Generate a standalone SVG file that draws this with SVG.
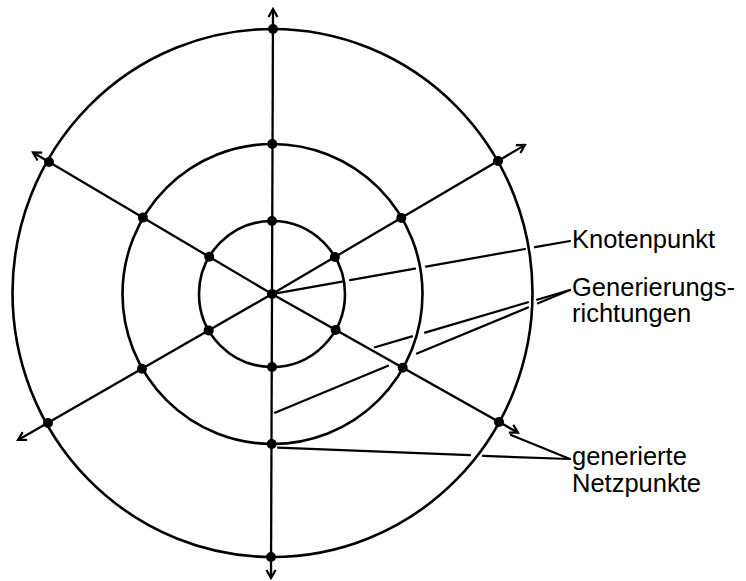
<svg xmlns="http://www.w3.org/2000/svg" width="746" height="581" viewBox="0 0 746 581">
<style>
.ring{fill:none;stroke:#000;stroke-width:2.6}
.spoke{fill:none;stroke:#000;stroke-width:2.3}
.lead{fill:none;stroke:#000;stroke-width:2.2;stroke-linecap:round}
.dot{fill:#000}
.lbl{font-family:"Liberation Sans",Arial,sans-serif;font-size:25.5px;fill:#000}
</style>
<defs>
<marker id="arr" viewBox="-10 -6 12 12" markerWidth="12" markerHeight="12" refX="0" refY="0" orient="auto" markerUnits="userSpaceOnUse">
<path d="M-8,-4.5 L0,0 L-8,4.5" fill="none" stroke="#000" stroke-width="2.2"/>
</marker>
</defs>
<rect width="746" height="581" fill="#fff"/>
<g id="rings">
<circle class="ring" cx="272" cy="294" r="73"/>
<circle class="ring" cx="272.5" cy="294" r="150"/>
<ellipse class="ring" cx="272.5" cy="293" rx="260" ry="264"/>
</g>
<g id="connectors">
<line class="spoke" x1="272" y1="294" x2="273" y2="9" marker-end="url(#arr)"/>
<line class="spoke" x1="272" y1="294" x2="271" y2="578" marker-end="url(#arr)"/>
<line class="spoke" x1="272" y1="294" x2="525" y2="145" marker-end="url(#arr)"/>
<line class="spoke" x1="272" y1="294" x2="33" y2="152.5" marker-end="url(#arr)"/>
<line class="spoke" x1="272" y1="294" x2="18" y2="440" marker-end="url(#arr)"/>
<line class="spoke" x1="272" y1="294" x2="518" y2="432.7" marker-end="url(#arr)"/>
<g id="leaders">
<path class="lead" d="M276,293.3 L342,281.6 M350,280.1 L415,268.6 M426,266.6 L525,249 M535,247.2 L570,241"/>
<path class="lead" d="M375,347.3 L412,336.4 M425,332.6 L528,302.3 M537,299.7 L570,290"/>
<path class="lead" d="M275,412.7 L388,365.7 M417,353.6 L528,307.5 M538,303.3 L570,290"/>
<path class="lead" d="M278,447.7 L470,455.1 M483,455.9 L570,459"/>
<path class="lead" d="M511,435 L570,459"/>
</g>
</g>
<g id="nodes">
<g id="center"><circle class="dot" cx="272" cy="294" r="5"/></g>
<g id="inner">
<circle class="dot" cx="272" cy="221" r="5"/>
<circle class="dot" cx="272" cy="367" r="5"/>
<circle class="dot" cx="334.9" cy="257" r="5"/>
<circle class="dot" cx="209.2" cy="256.8" r="5"/>
<circle class="dot" cx="208.7" cy="330.4" r="5"/>
<circle class="dot" cx="335.6" cy="329.9" r="5"/>
</g>
<g id="middle">
<circle class="dot" cx="272.3" cy="144" r="5"/>
<circle class="dot" cx="271.7" cy="444" r="5"/>
<circle class="dot" cx="401.3" cy="217.9" r="5"/>
<circle class="dot" cx="142.9" cy="217.6" r="5"/>
<circle class="dot" cx="142" cy="368.7" r="5"/>
<circle class="dot" cx="402.7" cy="367.7" r="5"/>
</g>
<g id="outer">
<circle class="dot" cx="273" cy="29" r="5"/>
<circle class="dot" cx="271" cy="557" r="5"/>
<circle class="dot" cx="498" cy="161" r="5"/>
<circle class="dot" cx="49" cy="162" r="5"/>
<circle class="dot" cx="48" cy="423" r="5"/>
<circle class="dot" cx="499" cy="422" r="5"/>
</g>
</g>
<g id="labels">
<g id="label-knotenpunkt"><text class="lbl" x="572" y="248">Knotenpunkt</text></g>
<g id="label-generierungsrichtungen"><text class="lbl" x="572" y="296">Generierungs-</text><text class="lbl" x="572" y="321.5">richtungen</text></g>
<g id="label-netzpunkte"><text class="lbl" x="572" y="465">generierte</text><text class="lbl" x="572" y="492">Netzpunkte</text></g>
</g>
</svg>
